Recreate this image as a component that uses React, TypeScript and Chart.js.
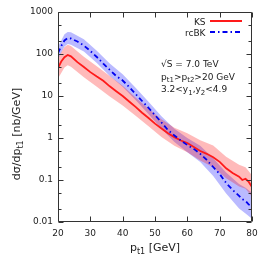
import React, { useEffect, useRef } from 'react';
import { Chart, registerables } from 'chart.js';

Chart.register(...registerables);

// ---- data ----
const ptLine = [20, 21, 22, 23, 24, 26, 28, 30, 32, 34, 36, 38, 40, 42, 44, 46, 48, 50, 52, 54, 56, 58, 60, 62, 64, 66, 68, 70, 72, 74, 76, 77, 78, 79, 80];
const ksLine = [46, 66, 84, 95, 88, 64, 49, 37, 29, 23, 17, 13, 10, 7.4, 5.5, 4.0, 3.0, 2.2, 1.68, 1.3, 1.05, 0.87, 0.76, 0.61, 0.49, 0.42, 0.35, 0.27, 0.19, 0.147, 0.12, 0.1, 0.107, 0.09, 0.068];
const rcbkLine = [105, 155, 210, 240, 234, 198, 159, 118, 85, 59, 42, 30, 23.4, 16.4, 11.2, 7.6, 5.2, 3.5, 2.34, 1.55, 1.15, 0.87, 0.68, 0.55, 0.42, 0.3, 0.204, 0.139, 0.085, 0.058, 0.042, 0.035, 0.032, 0.026, 0.024];

const ptBand = [20, 22, 23, 24, 28, 32, 36, 40, 44, 48, 52, 56, 60, 64, 68, 72, 76, 78, 80];
const ksUpper = [80, 147, 166, 154, 86, 51, 30, 17.5, 9.2, 5.0, 2.8, 1.75, 1.3, 0.88, 0.66, 0.36, 0.23, 0.2, 0.13];
const ksLower = [26, 48, 54, 50, 28, 16.6, 9.7, 5.9, 3.4, 1.9, 1.05, 0.65, 0.46, 0.29, 0.2, 0.11, 0.07, 0.062, 0.04];
const rcbkUpper = [148, 295, 335, 328, 223, 119, 59, 33, 15.7, 7.3, 3.3, 1.65, 1.0, 0.65, 0.33, 0.15, 0.08, 0.065, 0.05];
const rcbkLower = [75, 150, 172, 167, 114, 61, 30, 16.7, 8, 3.7, 1.67, 0.8, 0.46, 0.27, 0.125, 0.048, 0.021, 0.016, 0.012];

const xTicks = [20, 30, 40, 50, 60, 70, 80];
const yMajor = [0.01, 0.1, 1, 10, 100, 1000];
const yMinor = [0.02, 0.05, 0.2, 0.5, 2, 5, 20, 50, 200, 500];

const seriesNames = ['KS', 'rcBK'];
const infoLines: [string, boolean][][] = [
  [['√S = 7.0 TeV', false]],
  [['p', false], ['t1', true], ['>p', false], ['t2', true], ['>20 GeV', false]],
  [['3.2<y', false], ['1', true], [',y', false], ['2', true], ['<4.9', false]],
];
const yTitle: [string, boolean][] = [['dσ/dp', false], ['t1', true], [' [nb/GeV]', false]];
const xTitle: [string, boolean][] = [['p', false], ['t1', true], [' [GeV]', false]];

// ---- styles ----
const FONT = '"DejaVu Sans", sans-serif';
const RED = '#ff1a1a';
const BLUE = '#0000ee';
const RED_BAND = 'rgba(255,0,0,0.27)';
const BLUE_BAND = 'rgba(0,0,255,0.27)';
const BLUE_DASH = [5, 3, 1.5, 3];
const AXIS = '#333';

const toPts = (xs: number[], ys: number[]) => xs.map((x, i) => ({ x, y: ys[i] }));

function drawRich(ctx: CanvasRenderingContext2D, segs: [string, boolean][], x: number, y: number, size: number, subSize: number, align: 'left' | 'center' | 'right') {
  let w = 0;
  for (const [t, sub] of segs) {
    ctx.font = `${sub ? subSize : size}px ${FONT}`;
    w += ctx.measureText(t).width;
  }
  let cx = align === 'left' ? x : align === 'center' ? x - w / 2 : x - w;
  ctx.textAlign = 'left';
  ctx.textBaseline = 'alphabetic';
  for (const [t, sub] of segs) {
    ctx.font = `${sub ? subSize : size}px ${FONT}`;
    ctx.fillText(t, cx, sub ? y + size * 0.3 : y);
    cx += ctx.measureText(t).width;
  }
}

const decorPlugin = {
  id: 'decor',
  afterDraw(chart: any) {
    const ctx: CanvasRenderingContext2D = chart.ctx;
    const { left, right, top, bottom } = chart.chartArea;
    const xs = chart.scales.x;
    const ys = chart.scales.y;
    const L = Math.round(left) + 0.5;
    const R = Math.round(right) - 0.5;
    const T = Math.round(top) + 0.5;
    const B = Math.round(bottom) - 0.5;
    ctx.save();
    ctx.strokeStyle = AXIS;
    ctx.lineWidth = 1;
    ctx.setLineDash([]);
    ctx.beginPath();
    ctx.rect(L, T, R - L, B - T);
    ctx.stroke();
    // ticks
    ctx.beginPath();
    for (const v of xTicks) {
      const px = Math.round(xs.getPixelForValue(v)) + 0.5;
      ctx.moveTo(px, B); ctx.lineTo(px, B - 5);
      ctx.moveTo(px, T); ctx.lineTo(px, T + 5);
    }
    const yt = (vals: number[], len: number) => {
      for (const v of vals) {
        const py = Math.round(ys.getPixelForValue(v)) + 0.5;
        ctx.moveTo(L, py); ctx.lineTo(L + len, py);
        ctx.moveTo(R, py); ctx.lineTo(R - len, py);
      }
    };
    yt(yMajor, 5);
    yt(yMinor, 3);
    ctx.stroke();

    // titles
    ctx.fillStyle = '#222';
    drawRich(ctx, xTitle, (left + right) / 2, 251, 11, 8, 'center');
    ctx.save();
    ctx.translate(20, 134);
    ctx.rotate(-Math.PI / 2);
    drawRich(ctx, yTitle, 0, 0, 11, 8, 'center');
    ctx.restore();

    // legend
    const legendRows = [
      { name: seriesNames[0], color: RED, dash: [] as number[], y: 21, w: 2 },
      { name: seriesNames[1], color: BLUE, dash: BLUE_DASH, y: 32, w: 2 },
    ];
    for (const r of legendRows) {
      ctx.fillStyle = '#222';
      ctx.font = `9px ${FONT}`;
      ctx.textAlign = 'right';
      ctx.textBaseline = 'alphabetic';
      ctx.fillText(r.name, 205.5, r.y + 3.5);
      ctx.strokeStyle = r.color;
      ctx.lineWidth = r.w;
      ctx.setLineDash(r.dash);
      ctx.beginPath();
      ctx.moveTo(210, r.y);
      ctx.lineTo(242, r.y);
      ctx.stroke();
    }
    ctx.setLineDash([]);

    // info text
    ctx.fillStyle = '#222';
    const baselines = [67, 79.5, 92];
    infoLines.forEach((segs, i) => drawRich(ctx, segs, 161, baselines[i], 9, 7, 'left'));
    ctx.restore();
  },
};

export default function App() {
  const ref = useRef<HTMLCanvasElement | null>(null);
  useEffect(() => {
    if (!ref.current) return;
    const chart = new Chart(ref.current, {
      type: 'line',
      data: {
        datasets: [
          { data: toPts(ptBand, rcbkUpper), borderWidth: 0, pointRadius: 0, backgroundColor: BLUE_BAND, fill: '+1', order: 5 },
          { data: toPts(ptBand, rcbkLower), borderWidth: 0, pointRadius: 0, fill: false, order: 5 },
          { data: toPts(ptBand, ksUpper), borderWidth: 0, pointRadius: 0, backgroundColor: RED_BAND, fill: '+1', order: 4 },
          { data: toPts(ptBand, ksLower), borderWidth: 0, pointRadius: 0, fill: false, order: 4 },
          { label: seriesNames[0], data: toPts(ptLine, ksLine), borderColor: RED, borderWidth: 1.8, pointRadius: 0, fill: false, order: 2 },
          { label: seriesNames[1], data: toPts(ptLine, rcbkLine), borderColor: BLUE, borderWidth: 1.8, borderDash: BLUE_DASH, pointRadius: 0, fill: false, order: 1 },
        ] as any,
      },
      options: {
        animation: false,
        responsive: false,
        devicePixelRatio: 1,
        parsing: false as any,
        layout: { padding: { left: 0, right: 14, top: 12, bottom: 0 } },
        plugins: { legend: { display: false }, tooltip: { enabled: false }, title: { display: false } },
        scales: {
          x: {
            type: 'linear', min: 20, max: 80,
            grid: { display: false, drawTicks: false }, border: { display: false },
            afterBuildTicks: (s: any) => { s.ticks = xTicks.map((v) => ({ value: v })); },
            afterFit: (s: any) => { s.height = 44; },
            ticks: { padding: 6, autoSkip: false, maxRotation: 0, color: '#222', font: { family: FONT, size: 9 }, callback: (v: any) => String(v) },
          },
          y: {
            type: 'logarithmic', min: 0.01, max: 1000,
            grid: { display: false, drawTicks: false }, border: { display: false },
            afterBuildTicks: (s: any) => { s.ticks = yMajor.map((v) => ({ value: v })); },
            afterFit: (s: any) => { s.width = 58; },
            ticks: { padding: 5, autoSkip: false, color: '#222', font: { family: FONT, size: 9 }, callback: (v: any) => String(v) },
          },
        } as any,
      },
      plugins: [decorPlugin],
    });
    return () => chart.destroy();
  }, []);
  return (
    <div style={{ position: 'absolute', left: 0, top: 0, width: 266, height: 266, background: '#fff' }}>
      <canvas ref={ref} width={266} height={266} />
    </div>
  );
}
